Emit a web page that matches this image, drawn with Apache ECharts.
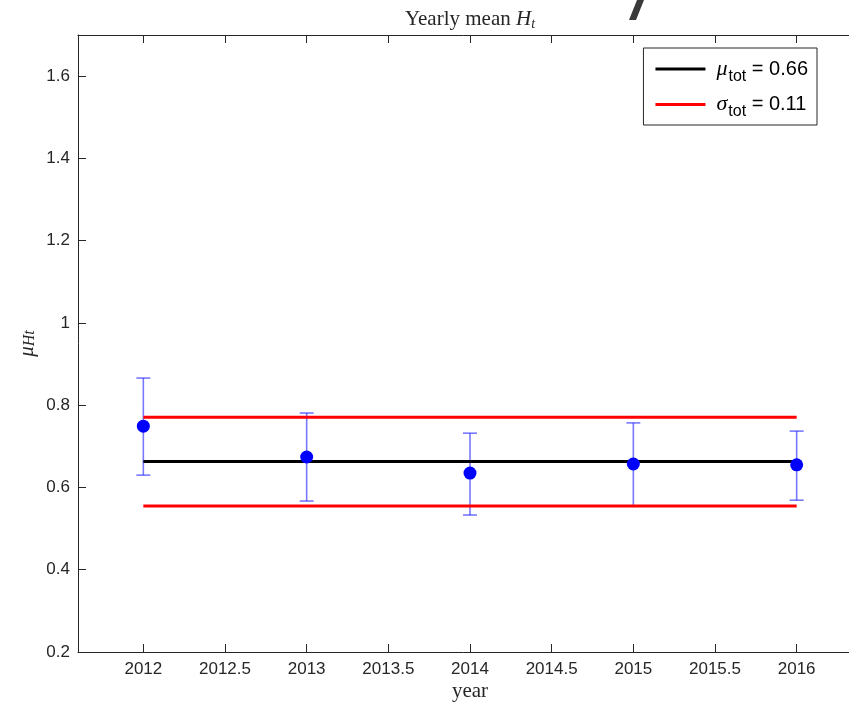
<!DOCTYPE html>
<html>
<head>
<meta charset="utf-8">
<script src="https://cdn.jsdelivr.net/npm/echarts@6/dist/echarts.min.js"></script>
<style>
  html, body { margin: 0; padding: 0; background: #fff; }
  #chart { width: 849px; height: 703px; }
</style>
</head>
<body>
<div id="chart"></div>
<script>
// Yearly means of H_t with their error bars, plus the overall mean and ±1 sigma band
const years = [2012, 2013, 2014, 2015, 2016];
const yearlyMean = [0.749, 0.674, 0.635, 0.657, 0.655];
const errLow = [0.630, 0.567, 0.533, 0.555, 0.569];
const errHigh = [0.866, 0.781, 0.732, 0.757, 0.737];
const muTot = 0.663;
const sigmaTot = 0.108;
const xTicks = [2012, 2012.5, 2013, 2013.5, 2014, 2014.5, 2015, 2015.5, 2016];
const yTicks = [0.2, 0.4, 0.6, 0.8, 1.0, 1.2, 1.4, 1.6];

const axisColor = '#262626';
const sansFont = '"Liberation Sans", Arial, Helvetica, sans-serif';
const serifFont = '"Liberation Serif", "Times New Roman", serif';

const chart = echarts.init(document.getElementById('chart'), null, { renderer: 'canvas' });

const fmt = v => String(+(+v).toFixed(2));

const xAxisBase = {
  type: 'value',
  min: 2011.6,
  max: 2016.4,
  splitLine: { show: false },
  axisLine: { show: true, onZero: false, lineStyle: { color: axisColor, width: 1 } },
  axisTick: { show: true, inside: true, length: 8, customValues: xTicks, lineStyle: { color: axisColor } }
};

const yAxisBase = {
  type: 'value',
  min: 0.2,
  max: 1.7,
  splitLine: { show: false },
  axisLine: { show: true, onZero: false, lineStyle: { color: axisColor, width: 1 } },
  axisTick: { show: true, inside: true, length: 8, customValues: yTicks, lineStyle: { color: axisColor } }
};

const legendRich = {
  g: { fontFamily: serifFont, fontStyle: 'italic', fontSize: 22, color: '#000' },
  s: { fontFamily: sansFont, fontSize: 16, color: '#000', padding: [15, 0, 0, 1] },
  t: { fontFamily: sansFont, fontSize: 20, color: '#000' }
};

chart.setOption({
  animation: false,
  backgroundColor: '#fff',
  title: {
    text: 'Yearly mean {i|H}{sub|t}',
    left: 465,
    textAlign: 'center',
    top: 3,
    textStyle: {
      fontFamily: serifFont,
      fontSize: 21,
      fontWeight: 'normal',
      color: axisColor,
      rich: {
        i: { fontFamily: serifFont, fontStyle: 'italic', fontSize: 21, color: axisColor },
        sub: { fontFamily: serifFont, fontStyle: 'italic', fontSize: 14, color: axisColor, padding: [9, 0, 0, 0] }
      }
    }
  },
  grid: { left: 78, top: 35, width: 784, bottom: 51, containLabel: false, outerBoundsMode: 'none' },
  legend: {
    orient: 'vertical',
    right: 32,
    top: 48,
    padding: [10, 9, 5, 12],
    itemGap: 9,
    itemWidth: 50,
    itemHeight: 3,
    icon: 'rect',
    backgroundColor: '#fff',
    borderColor: axisColor,
    borderWidth: 1,
    borderRadius: 0,
    data: ['mu', 'sigma'],
    formatter: name => name === 'mu'
      ? '{g|μ}{s|tot}{t| = ' + muTot.toFixed(2) + '}'
      : '{g|σ}{s|tot}{t| = ' + sigmaTot.toFixed(2) + '}',
    textStyle: { rich: legendRich, padding: [0, 0, 0, 6] }
  },
  xAxis: [
    Object.assign({}, xAxisBase, {
      position: 'bottom',
      name: 'year',
      nameLocation: 'middle',
      nameGap: 29,
      nameMoveOverlap: false,
      nameTextStyle: { fontFamily: serifFont, fontSize: 21, color: axisColor },
      axisLabel: {
        customValues: xTicks,
        margin: 9,
        fontFamily: sansFont,
        fontSize: 17,
        color: axisColor,
        formatter: fmt
      }
    }),
    Object.assign({}, xAxisBase, {
      position: 'top',
      axisLabel: { show: false }
    })
  ],
  yAxis: [
    Object.assign({}, yAxisBase, {
      position: 'left',
      name: '{m|μ}{sub|Ht}',
      nameLocation: 'middle',
      nameGap: 40,
      nameMoveOverlap: false,
      nameRotate: 90,
      nameTextStyle: {
        rich: {
          m: { fontFamily: serifFont, fontStyle: 'italic', fontSize: 21, color: axisColor },
          sub: { fontFamily: serifFont, fontStyle: 'italic', fontSize: 16, color: axisColor, padding: [5, 0, 0, 0] }
        }
      },
      axisLabel: {
        customValues: yTicks,
        margin: 8,
        fontFamily: sansFont,
        fontSize: 17,
        color: axisColor,
        formatter: fmt
      }
    }),
    Object.assign({}, yAxisBase, {
      position: 'right',
      axisLabel: { show: false }
    })
  ],
  series: [
    {
      name: 'errorbars',
      type: 'custom',
      xAxisIndex: 0,
      yAxisIndex: 0,
      z: 2,
      data: years.map((y, i) => [y, errLow[i], errHigh[i]]),
      renderItem: (params, api) => {
        const top = api.coord([api.value(0), api.value(2)]);
        const bot = api.coord([api.value(0), api.value(1)]);
        const cap = 7;
        const style = { stroke: 'rgba(30,30,255,0.6)', lineWidth: 1.6 };
        return {
          type: 'group',
          children: [
            { type: 'line', shape: { x1: top[0], y1: top[1], x2: bot[0], y2: bot[1] }, style },
            { type: 'line', shape: { x1: top[0] - cap, y1: top[1], x2: top[0] + cap, y2: top[1] }, style },
            { type: 'line', shape: { x1: bot[0] - cap, y1: bot[1], x2: bot[0] + cap, y2: bot[1] }, style }
          ]
        };
      }
    },
    {
      name: 'mu',
      type: 'line',
      z: 3,
      symbol: 'none',
      color: '#000000',
      lineStyle: { color: '#000000', width: 3 },
      data: [[years[0], muTot], [years[years.length - 1], muTot]]
    },
    {
      name: 'sigma',
      type: 'line',
      z: 3,
      symbol: 'none',
      color: '#ff0000',
      lineStyle: { color: '#ff0000', width: 3 },
      data: [[years[0], muTot + sigmaTot], [years[years.length - 1], muTot + sigmaTot]]
    },
    {
      name: 'sigmaLow',
      type: 'line',
      z: 3,
      symbol: 'none',
      lineStyle: { color: '#ff0000', width: 3 },
      data: [[years[0], muTot - sigmaTot], [years[years.length - 1], muTot - sigmaTot]]
    },
    {
      name: 'yearly',
      type: 'scatter',
      z: 4,
      symbol: 'circle',
      symbolSize: 13,
      itemStyle: { color: '#0000ff', opacity: 1 },
      data: years.map((y, i) => [y, yearlyMean[i]])
    }
  ],
  graphic: [
    {
      type: 'polygon',
      z: 10,
      shape: { points: [[637, 0], [644, 0], [636, 20], [629, 20]] },
      style: { fill: '#3a3a3a' }
    }
  ]
});
</script>
</body>
</html>
